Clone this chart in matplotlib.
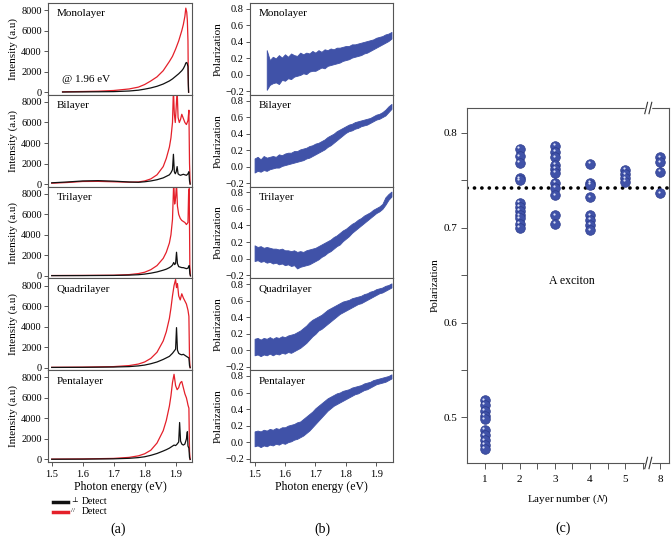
import numpy as np
import matplotlib.pyplot as plt
from matplotlib.lines import Line2D
from matplotlib.transforms import offset_copy

plt.rcParams['font.family'] = ['Liberation Serif', 'DejaVu Serif']
plt.rcParams['mathtext.fontset'] = 'stix'
plt.rcParams['axes.unicode_minus'] = True

names = ['Monolayer', 'Bilayer', 'Trilayer', 'Quadrilayer', 'Pentalayer']

# (a) PL spectra, parallel (red) and perpendicular (black) detection
E_a = [
    [1.535, 1.55, 1.60, 1.65, 1.70, 1.75, 1.78, 1.80, 1.82, 1.84, 1.86, 1.88, 1.89, 1.90, 1.91,
     1.92, 1.925, 1.93, 1.933, 1.936, 1.938, 1.940, 1.941, 1.942],
    [1.50, 1.55, 1.60, 1.65, 1.70, 1.75, 1.78, 1.80, 1.82, 1.84, 1.86, 1.87, 1.88, 1.885, 1.89,
     1.893, 1.896, 1.899, 1.902, 1.905, 1.908, 1.912, 1.916, 1.92, 1.925, 1.93, 1.935, 1.94,
     1.943, 1.945, 1.947],
    [1.50, 1.60, 1.70, 1.75, 1.78, 1.80, 1.82, 1.84, 1.86, 1.87, 1.88, 1.885, 1.89, 1.894, 1.897,
     1.90, 1.903, 1.906, 1.91, 1.915, 1.92, 1.925, 1.93, 1.935, 1.94, 1.942, 1.944, 1.946, 1.948],
    [1.50, 1.60, 1.70, 1.75, 1.78, 1.80, 1.82, 1.84, 1.86, 1.87, 1.88, 1.885, 1.89, 1.895, 1.90,
     1.903, 1.906, 1.91, 1.915, 1.92, 1.925, 1.93, 1.935, 1.94, 1.943, 1.945, 1.947],
    [1.50, 1.60, 1.70, 1.75, 1.78, 1.80, 1.82, 1.84, 1.86, 1.87, 1.88, 1.885, 1.89, 1.895, 1.90,
     1.905, 1.91, 1.913, 1.916, 1.92, 1.925, 1.93, 1.935, 1.938, 1.94, 1.943, 1.945, 1.947],
]
par_a = [
    [40, 50, 70, 100, 170, 320, 500, 750, 1100, 1500, 2100, 3000, 3500, 4200, 5000,
     6000, 6600, 7400, 8200, 7800, 7000, 5000, 1500, 0],
    [80, 150, 250, 260, 220, 180, 200, 300, 500, 900, 1700, 2500, 3600, 4500, 6000,
     9200, 6800, 6000, 7500, 9200, 6500, 6000, 6300, 6800, 6400, 6000, 5800, 6200, 7200, 2000, 0],
    [30, 40, 60, 120, 220, 350, 600, 1000, 1700, 2300, 3200, 4000, 5500, 9200, 7000,
     7600, 9000, 6800, 6000, 5600, 5400, 5300, 5200, 5000, 5200, 8000, 8500, 1000, 0],
    [30, 50, 100, 200, 350, 550, 900, 1500, 2600, 3500, 4800, 5800, 7000, 8000, 8600,
     7800, 8200, 7000, 6600, 7200, 6800, 6500, 6200, 5600, 5000, 800, 0],
    [30, 50, 100, 200, 350, 550, 900, 1600, 2800, 3800, 5200, 6200, 7500, 8300, 7200,
     6800, 7000, 7300, 7500, 7600, 7000, 6400, 6000, 5600, 5300, 5000, 800, 0],
]
perp_a = [
    [20, 25, 35, 45, 60, 120, 200, 300, 420, 580, 800, 1100, 1300, 1550, 1800,
     2100, 2300, 2600, 2850, 2900, 2750, 2500, 800, 0],
    [120, 200, 300, 330, 280, 200, 170, 220, 300, 420, 600, 750, 900, 1100, 1400,
     2900, 1200, 1000, 1200, 1700, 1000, 900, 850, 900, 950, 900, 850, 1000, 1200, 300, 0],
    [20, 25, 40, 70, 110, 170, 260, 380, 550, 650, 800, 900, 1050, 1300, 1100,
     1200, 2300, 1200, 900, 850, 800, 800, 750, 700, 750, 900, 1000, 200, 0],
    [20, 30, 60, 100, 170, 250, 380, 550, 800, 950, 1100, 1250, 1400, 1600, 1800,
     3900, 1700, 1400, 1300, 1250, 1300, 1200, 1100, 1000, 950, 200, 0],
    [20, 30, 60, 110, 180, 260, 400, 580, 820, 950, 1100, 1200, 1300, 1400, 1350,
     1500, 1700, 3600, 1800, 1500, 1400, 1500, 2000, 2700, 1300, 1100, 200, 0],
]

# (b) polarization, upper / lower edge of the noisy trace
E_b_mono = np.round(np.arange(1.54, 1.9501, 0.01), 3)
E_b = np.round(np.arange(1.50, 1.9501, 0.01), 3)
pol_hi = [
    [0.30, 0.18, 0.22, 0.20, 0.24, 0.21, 0.25, 0.22, 0.26, 0.24, 0.23, 0.27, 0.25, 0.27, 0.26,
     0.29, 0.27, 0.30, 0.28, 0.31, 0.30, 0.32, 0.31, 0.33, 0.33, 0.34, 0.35, 0.35, 0.37, 0.37,
     0.38, 0.39, 0.40, 0.41, 0.42, 0.43, 0.45, 0.46, 0.47, 0.49, 0.50, 0.52],
    [0.10, 0.12, 0.09, 0.13, 0.11, 0.12, 0.13, 0.12, 0.15, 0.14, 0.16, 0.17, 0.17, 0.19, 0.19,
     0.21, 0.22, 0.23, 0.25, 0.26, 0.28, 0.29, 0.31, 0.33, 0.36, 0.38, 0.40, 0.43, 0.45, 0.47,
     0.49, 0.51, 0.52, 0.54, 0.55, 0.56, 0.57, 0.58, 0.59, 0.61, 0.63, 0.64, 0.66, 0.69, 0.73, 0.76],
    [0.16, 0.14, 0.15, 0.13, 0.14, 0.13, 0.12, 0.12, 0.11, 0.12, 0.10, 0.10, 0.09, 0.10, 0.08,
     0.09, 0.08, 0.10, 0.11, 0.12, 0.13, 0.15, 0.17, 0.19, 0.21, 0.23, 0.26, 0.28, 0.31, 0.34,
     0.36, 0.39, 0.42, 0.44, 0.47, 0.49, 0.52, 0.54, 0.56, 0.59, 0.61, 0.63, 0.66, 0.74, 0.78, 0.81],
    [0.14, 0.15, 0.13, 0.15, 0.14, 0.16, 0.14, 0.16, 0.15, 0.17, 0.16, 0.18, 0.19, 0.20, 0.22,
     0.24, 0.27, 0.30, 0.34, 0.37, 0.39, 0.41, 0.43, 0.46, 0.49, 0.51, 0.53, 0.55, 0.57, 0.59,
     0.60, 0.61, 0.63, 0.64, 0.65, 0.66, 0.68, 0.69, 0.71, 0.72, 0.74, 0.75, 0.76, 0.78, 0.79, 0.81],
    [0.13, 0.14, 0.13, 0.15, 0.14, 0.16, 0.15, 0.17, 0.16, 0.18, 0.18, 0.20, 0.21, 0.22, 0.24,
     0.25, 0.28, 0.31, 0.34, 0.37, 0.41, 0.44, 0.47, 0.50, 0.53, 0.55, 0.57, 0.59, 0.60, 0.62,
     0.63, 0.64, 0.66, 0.67, 0.68, 0.69, 0.71, 0.72, 0.73, 0.75, 0.76, 0.77, 0.78, 0.79, 0.80, 0.82],
]
pol_lo = [
    [-0.18, -0.12, -0.10, -0.09, -0.11, -0.06, -0.07, -0.04, -0.05, -0.02, -0.01, 0.00, 0.02, 0.01,
     0.04, 0.05, 0.05, 0.07, 0.09, 0.08, 0.11, 0.12, 0.13, 0.14, 0.15, 0.17, 0.18, 0.19, 0.21, 0.22,
     0.23, 0.24, 0.26, 0.27, 0.29, 0.31, 0.33, 0.35, 0.37, 0.39, 0.41, 0.44],
    [-0.07, -0.05, -0.06, -0.04, -0.05, -0.03, -0.02, -0.01, -0.01, 0.01, 0.02, 0.03, 0.04, 0.05,
     0.06, 0.07, 0.08, 0.10, 0.11, 0.13, 0.15, 0.17, 0.19, 0.21, 0.24, 0.26, 0.29, 0.32, 0.35, 0.38,
     0.41, 0.43, 0.44, 0.46, 0.47, 0.49, 0.50, 0.51, 0.53, 0.55, 0.57, 0.58, 0.60, 0.62, 0.66, 0.70],
    [-0.03, -0.02, -0.04, -0.03, -0.05, -0.04, -0.06, -0.05, -0.07, -0.06, -0.08, -0.07, -0.09, -0.08,
     -0.12, -0.10, -0.09, -0.08, -0.07, -0.05, -0.03, -0.01, 0.02, 0.04, 0.07, 0.09, 0.12, 0.15, 0.17,
     0.21, 0.24, 0.27, 0.31, 0.34, 0.37, 0.40, 0.43, 0.46, 0.49, 0.52, 0.55, 0.57, 0.60, 0.65, 0.71, 0.75],
    [-0.06, -0.05, -0.07, -0.05, -0.06, -0.04, -0.06, -0.04, -0.05, -0.03, -0.04, -0.02, -0.03, -0.01,
     0.01, 0.03, 0.06, 0.09, 0.13, 0.17, 0.20, 0.24, 0.26, 0.29, 0.32, 0.35, 0.38, 0.41, 0.44, 0.46,
     0.48, 0.50, 0.52, 0.54, 0.56, 0.57, 0.59, 0.61, 0.63, 0.65, 0.67, 0.69, 0.70, 0.72, 0.74, 0.76],
    [-0.05, -0.04, -0.06, -0.04, -0.05, -0.03, -0.04, -0.02, -0.03, -0.01, -0.02, 0.00, 0.01, 0.03,
     0.04, 0.06, 0.08, 0.11, 0.14, 0.18, 0.22, 0.26, 0.30, 0.34, 0.38, 0.41, 0.44, 0.46, 0.48, 0.50,
     0.52, 0.54, 0.56, 0.58, 0.59, 0.61, 0.63, 0.64, 0.66, 0.68, 0.70, 0.71, 0.72, 0.73, 0.75, 0.77],
]

# (c) polarization of the A exciton vs layer number (8 drawn at position 6)
layer_pos = [1, 2, 3, 4, 5, 6]
layer_labels = ['1', '2', '3', '4', '5', '8']
pol_c = [
    [0.518, 0.513, 0.507, 0.502, 0.498, 0.487, 0.481, 0.476, 0.471, 0.467],
    [0.783, 0.775, 0.768, 0.752, 0.750, 0.726, 0.722, 0.718, 0.713, 0.710, 0.704, 0.700],
    [0.786, 0.780, 0.774, 0.766, 0.762, 0.758, 0.747, 0.742, 0.734, 0.713, 0.704],
    [0.767, 0.747, 0.745, 0.732, 0.713, 0.708, 0.703, 0.697],
    [0.761, 0.756, 0.752, 0.748],
    [0.774, 0.769, 0.759, 0.736],
]
pol_mean = 0.742

W, H = 671, 538
fig = plt.figure(figsize=(W / 100, H / 100), dpi=100)
frame = '#555555'
blue = '#4052a8'
red = '#e4202a'


def style(ax):
    for s in ax.spines.values():
        s.set_color(frame)
        s.set_linewidth(0.8)
    ax.tick_params(direction='out', length=3, width=0.7, color=frame, labelsize=7.5, pad=1.5)


gs_a = fig.add_gridspec(5, 1, left=48 / W, right=192 / W, top=1 - 3 / H, bottom=1 - 462 / H, hspace=0)
gs_b = fig.add_gridspec(5, 1, left=250 / W, right=393 / W, top=1 - 3 / H, bottom=1 - 462 / H, hspace=0)

for i in range(5):
    ax = fig.add_subplot(gs_a[i])
    style(ax)
    ax.plot(E_a[i], par_a[i], color=red, lw=0.9)
    ax.plot(E_a[i], perp_a[i], color='#111111', lw=0.9)
    ax.set_xlim(1.488, 1.953)
    ax.set_ylim(-250, 8700)
    ax.set_yticks([0, 2000, 4000, 6000, 8000])
    ax.set_xticks([1.5, 1.6, 1.7, 1.8, 1.9])
    ax.set_ylabel('Intensity (a.u)', fontsize=8, labelpad=2)
    ax.text(0.06, 0.93, names[i], transform=ax.transAxes, fontsize=8, va='top')
    if i == 0:
        ax.text(0.1, 0.17, '@ 1.96 eV', transform=ax.transAxes, fontsize=8, va='center')
    if i < 4:
        ax.tick_params(axis='x', length=0, labelbottom=False)
    else:
        ax.tick_params(axis='x', pad=3)
        ax.set_xlabel('Photon energy (eV)', fontsize=8.5, labelpad=1)

for i in range(5):
    ax = fig.add_subplot(gs_b[i])
    style(ax)
    ex = E_b_mono if i == 0 else E_b
    ax.fill_between(ex, pol_lo[i], pol_hi[i], color=blue, lw=0.6, edgecolor=blue)
    ax.set_xlim(1.485, 1.955)
    ax.set_ylim(-0.24, 0.87)
    ax.set_yticks([-0.2, 0.0, 0.2, 0.4, 0.6, 0.8])
    ax.set_yticklabels(['\u22120.2', '0.0', '0.2', '0.4', '0.6', '0.8'])
    ax.set_xticks([1.5, 1.6, 1.7, 1.8, 1.9])
    ax.set_ylabel('Polarization', fontsize=8, labelpad=2)
    ax.text(0.06, 0.93, names[i], transform=ax.transAxes, fontsize=8, va='top')
    if i < 4:
        ax.tick_params(axis='x', length=0, labelbottom=False)
    else:
        ax.tick_params(axis='x', pad=3)
        ax.set_xlabel('Photon energy (eV)', fontsize=8.5, labelpad=1)

# (c)
axc = fig.add_axes([467 / W, 1 - 463 / H, 202 / W, 355 / H])
style(axc)
axc.tick_params(labelsize=8)
axc.set_xlim(0.5, 6.25)
axc.set_ylim(0.452, 0.826)
axc.set_xticks(layer_pos)
axc.set_xticklabels(layer_labels)
axc.set_xticks([1.5, 2.5, 3.5, 4.5, 5.5], minor=True)
axc.set_yticks([0.5, 0.6, 0.7, 0.8])
axc.set_yticks([0.55, 0.65, 0.75], minor=True)
axc.tick_params(which='both', direction='out', length=4, width=0.7, color=frame)
axc.tick_params(axis='x', pad=5)
axc.tick_params(axis='y', pad=3)
axc.axhline(pol_mean, color='black', lw=2.6, ls=(0, (0.05, 2.0)), dash_capstyle='round')
hl = offset_copy(axc.transData, fig=fig, x=-1.2, y=1.6, units='dots')
for pos, vals in zip(layer_pos, pol_c):
    axc.scatter([pos] * len(vals), vals, s=48, color=blue, edgecolor='#2c3b8c', lw=0.5, zorder=3)
    axc.scatter([pos] * len(vals), vals, s=2.5, color='#d8def5', lw=0, zorder=4, transform=hl)
axc.text(3.48, 0.644, 'A exciton', fontsize=8.5, ha='center', va='center')
axc.set_ylabel('Polarization', fontsize=8, labelpad=3)
axc.set_xlabel('Layer number ($N$)', fontsize=8, labelpad=6)

# axis break marks between 5 and 8
bt = axc.get_xaxis_transform()
for yb in (0.0, 1.0):
    axc.plot([5.60, 5.72], [yb, yb], color='white', lw=2.5, transform=bt, clip_on=False, zorder=5)
    for xc in (5.60, 5.72):
        axc.plot([xc - 0.04, xc + 0.04], [yb - 0.016, yb + 0.016], color='#333333', lw=0.8,
                 transform=bt, clip_on=False, zorder=6)

# legend for (a), drawn by hand so the two rows sit close together
leg_rows = [('#111111', '\u22a5', 502), (red, '//', 512)]
for col, sym, yp in leg_rows:
    fig.add_artist(Line2D([53 / W, 68 / W], [1 - yp / H, 1 - yp / H], color=col, lw=2.5,
                          transform=fig.transFigure))
    fig.text(71 / W, 1 - (yp - 1) / H, sym, fontsize=5, ha='left', va='center')
    fig.text(82 / W, 1 - yp / H, 'Detect', fontsize=7, ha='left', va='center')

fig.text(118 / W, 1 - 529 / H, '(a)', fontsize=10, ha='center', va='center')
fig.text(322 / W, 1 - 529 / H, '(b)', fontsize=10, ha='center', va='center')
fig.text(563 / W, 1 - 528 / H, '(c)', fontsize=10, ha='center', va='center')

fig.savefig('out.png', dpi=100)
